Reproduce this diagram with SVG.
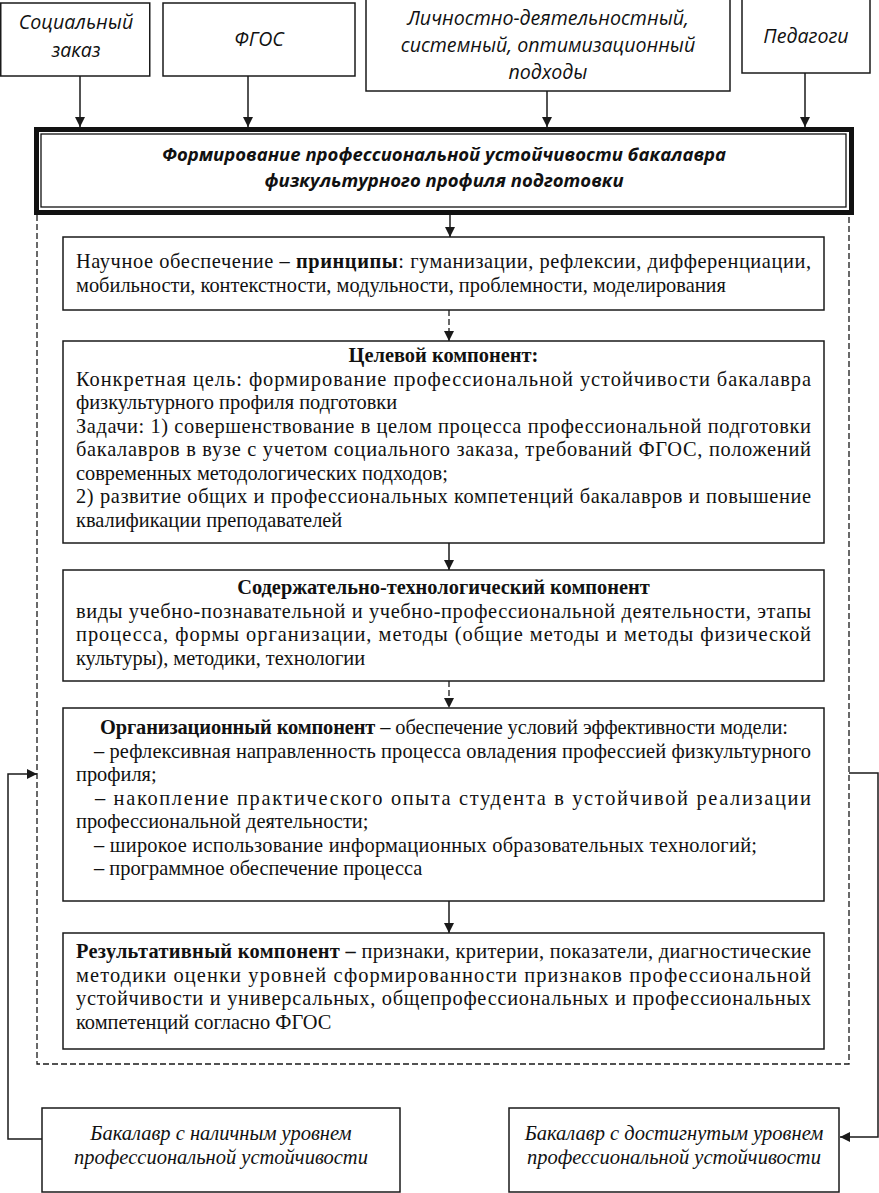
<svg xmlns="http://www.w3.org/2000/svg" width="879" height="1193" viewBox="0 0 879 1193">
<style>
.box{fill:#fff;stroke:#1a1a1a;stroke-width:1.5}
.top{font-family:"Open Sans","Noto Sans",sans-serif;font-style:italic;font-size:19.6px;fill:#111;text-anchor:middle}
.title{font-family:"Open Sans","Noto Sans",sans-serif;font-style:italic;font-weight:bold;font-size:18.5px;fill:#111;text-anchor:middle}
.t{font-family:"Liberation Serif","Times New Roman",serif;font-size:20.4px;fill:#111}
.c{text-anchor:middle}
.b{font-weight:bold}
.bi{font-family:"Liberation Serif","Times New Roman",serif;font-style:italic;font-size:20.5px;fill:#111;text-anchor:middle}
.ln{fill:none;stroke:#1a1a1a;stroke-width:1.5}
.dash{fill:none;stroke:#1a1a1a;stroke-width:1.3;stroke-dasharray:6 3}
</style>
<defs>
<marker id="ah" viewBox="0 0 10 10" refX="10" refY="5" markerWidth="10" markerHeight="11" markerUnits="userSpaceOnUse" orient="auto">
<path d="M0,0 L10,5 L0,10 z" fill="#1a1a1a"/>
</marker>
</defs>

<g id="connectors">
<line class="ln" x1="80" y1="76" x2="80" y2="127" marker-end="url(#ah)"/>
<line class="ln" x1="248" y1="76" x2="248" y2="127" marker-end="url(#ah)"/>
<line class="ln" x1="547" y1="91" x2="547" y2="127" marker-end="url(#ah)"/>
<line class="ln" x1="805" y1="73" x2="805" y2="127" marker-end="url(#ah)"/>
<line class="ln" x1="450" y1="215" x2="450" y2="237" marker-end="url(#ah)"/>
<line class="dash" x1="449" y1="310" x2="449" y2="341" marker-end="url(#ah)"/>
<line class="ln" x1="449" y1="543" x2="449" y2="570" marker-end="url(#ah)"/>
<line class="dash" x1="449" y1="681" x2="449" y2="708" marker-end="url(#ah)"/>
<line class="ln" x1="449" y1="901" x2="449" y2="933" marker-end="url(#ah)"/>
<path class="dash" d="M37,215 V1064 H849 V215"/>
<polyline class="ln" points="42,1139 8,1139 8,774 37,774" marker-end="url(#ah)"/>
<polyline class="ln" points="849,773 878,773 878,1137 840,1137" marker-end="url(#ah)"/>
</g>

<g id="n-social">
<rect class="box" x="0.75" y="3" width="149" height="73"/>
<text class="top" x="76" y="29">Социальный</text>
<text class="top" x="76" y="57">заказ</text>
</g>
<g id="n-fgos">
<rect class="box" x="163" y="3" width="192" height="73"/>
<text class="top" x="259" y="46">ФГОС</text>
</g>
<g id="n-approaches">
<rect class="box" x="366" y="-1" width="364" height="92"/>
<text class="top" x="548" y="25">Личностно-деятельностный,</text>
<text class="top" x="548" y="52">системный, оптимизационный</text>
<text class="top" x="548" y="79">подходы</text>
</g>
<g id="n-teachers">
<rect class="box" x="742" y="-1" width="128" height="74"/>
<text class="top" x="806" y="43">Педагоги</text>
</g>

<g id="n-main">
<rect x="36.5" y="129.5" width="815" height="83" fill="#fff" stroke="#111" stroke-width="5"/>
<rect x="41" y="134" width="805" height="73" fill="none" stroke="#111" stroke-width="1.3"/>
<text class="title" x="444" y="161">Формирование профессиональной устойчивости бакалавра</text>
<text class="title" x="444" y="187">физкультурного профиля подготовки</text>
</g>

<g id="n-science">
<rect class="box" x="63" y="237" width="761" height="73"/>
<text class="t" x="76" y="268" textLength="735" lengthAdjust="spacing">Научное обеспечение – <tspan class="b">принципы</tspan>: гуманизации, рефлексии, дифференциации,</text>
<text class="t" x="76" y="291.5">мобильности, контекстности, модульности, проблемности, моделирования</text>
</g>

<g id="n-target">
<rect class="box" x="63" y="341" width="761" height="202"/>
<text class="t c b" x="443.5" y="362">Целевой компонент:</text>
<text class="t" x="76" y="385.5" textLength="735" lengthAdjust="spacing">Конкретная цель: формирование профессиональной устойчивости бакалавра</text>
<text class="t" x="76" y="409">физкультурного профиля подготовки</text>
<text class="t" x="76" y="432.5" textLength="735" lengthAdjust="spacing">Задачи: 1) совершенствование в целом процесса профессиональной подготовки</text>
<text class="t" x="76" y="456" textLength="735" lengthAdjust="spacing">бакалавров в вузе с учетом социального заказа, требований ФГОС, положений</text>
<text class="t" x="76" y="479.5">современных методологических подходов;</text>
<text class="t" x="76" y="503" textLength="735" lengthAdjust="spacing">2) развитие общих и профессиональных компетенций бакалавров и повышение</text>
<text class="t" x="76" y="526.5">квалификации преподавателей</text>
</g>

<g id="n-content">
<rect class="box" x="63" y="570" width="761" height="111"/>
<text class="t c b" x="443.5" y="594">Содержательно-технологический компонент</text>
<text class="t" x="76" y="617.5" textLength="735" lengthAdjust="spacing">виды учебно-познавательной и учебно-профессиональной деятельности, этапы</text>
<text class="t" x="76" y="641" textLength="735" lengthAdjust="spacing">процесса, формы организации, методы (общие методы и методы физической</text>
<text class="t" x="76" y="664.5">культуры), методики, технологии</text>
</g>

<g id="n-org">
<rect class="box" x="63" y="708" width="761" height="193"/>
<text class="t" x="100" y="734" textLength="688" lengthAdjust="spacing"><tspan class="b">Организационный компонент</tspan> – обеспечение условий эффективности модели:</text>
<text class="t" x="94" y="757.5" textLength="717" lengthAdjust="spacing">– рефлексивная направленность процесса овладения профессией физкультурного</text>
<text class="t" x="76" y="781">профиля;</text>
<text class="t" x="95" y="804.5" textLength="716" lengthAdjust="spacing">– накопление практического опыта студента в устойчивой реализации</text>
<text class="t" x="76" y="828">профессиональной деятельности;</text>
<text class="t" x="94" y="851.5" textLength="663" lengthAdjust="spacing">–  широкое использование информационных образовательных технологий;</text>
<text class="t" x="94" y="875">–  программное обеспечение процесса</text>
</g>

<g id="n-result">
<rect class="box" x="63" y="933" width="761" height="116"/>
<text class="t" x="76" y="958" textLength="735" lengthAdjust="spacing"><tspan class="b">Результативный компонент –</tspan> признаки, критерии, показатели, диагностические</text>
<text class="t" x="76" y="981.5" textLength="735" lengthAdjust="spacing">методики оценки уровней сформированности признаков профессиональной</text>
<text class="t" x="76" y="1005" textLength="735" lengthAdjust="spacing">устойчивости и универсальных, общепрофессиональных и профессиональных</text>
<text class="t" x="76" y="1028.5">компетенций согласно ФГОС</text>
</g>

<g id="n-initial">
<rect class="box" x="42" y="1108" width="358" height="84"/>
<text class="bi" x="221" y="1140">Бакалавр с наличным уровнем</text>
<text class="bi" x="221" y="1164">профессиональной устойчивости</text>
</g>
<g id="n-achieved">
<rect class="box" x="509" y="1108" width="330" height="84"/>
<text class="bi" x="674" y="1140">Бакалавр с достигнутым уровнем</text>
<text class="bi" x="674" y="1164">профессиональной устойчивости</text>
</g>
</svg>
